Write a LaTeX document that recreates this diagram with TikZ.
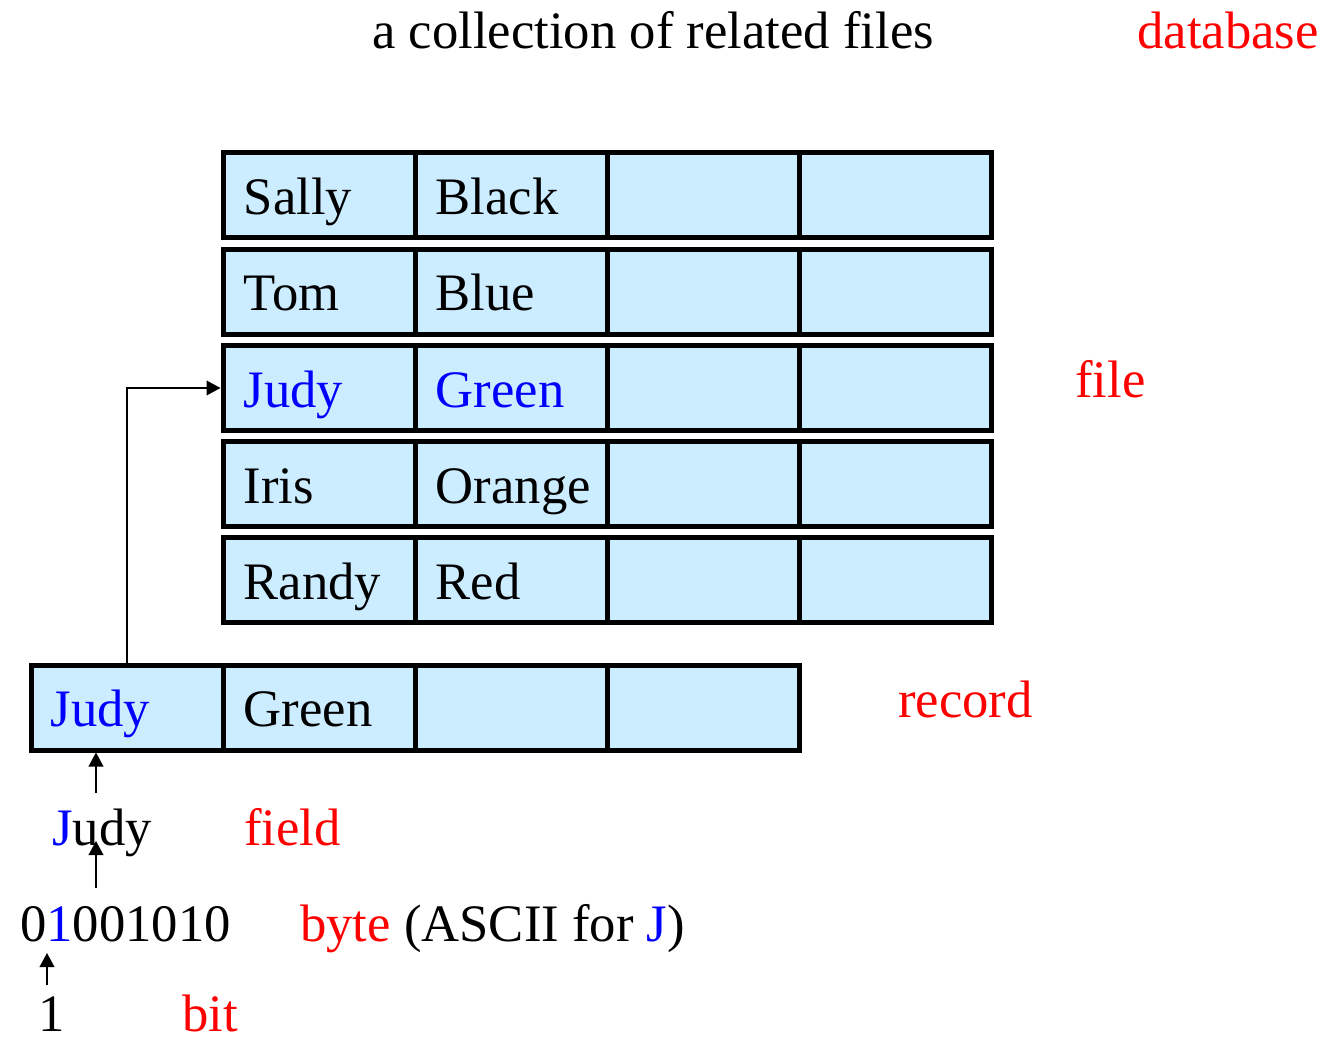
\documentclass[tikz,border=0pt]{standalone}
\usepackage{fontspec}
\setmainfont{Liberation Serif}
\usetikzlibrary{positioning, arrows.meta, calc}
\definecolor{cellBlue}{HTML}{CCECFF}
\definecolor{tagRed}{HTML}{FF0000}
\definecolor{keyBlue}{HTML}{0000FF}

\begin{document}
\begin{tikzpicture}[x=0.75pt, y=-0.75pt, font=\fontsize{39.5}{47}\selectfont,
    cell/.style={draw=black, fill=cellBlue, line width=3.75pt, minimum width=144pt,
      minimum height=63.75pt, inner sep=0pt, anchor=north west},
    celltext/.style={anchor=base west, inner sep=0pt},
    tag/.style={celltext, text=tagRed},
    link/.style={line width=1.3pt, -{Triangle[length=10.5pt, width=11pt]}}]
  \useasboundingbox (0,0) rectangle (1330,1039);
  % el archivo: cinco registros de cuatro campos
  \foreach \r/\yt/\nm/\sn/\clr in {%
    1/150/Sally/Black/black,
    2/246.5/Tom/Blue/black,
    3/343/Judy/Green/keyBlue,
    4/439/Iris/Orange/black,
    5/535/Randy/Red/black%
  } {
    \foreach \c in {1,...,4}
      \node[cell] (f-\r-\c) at ({220.5+192*(\c-1)},\yt) {};
    \node[celltext, text=\clr] (ft-\r-1) at ($(f-\r-1.north west)+(23,64)$) {\nm};
    \node[celltext, text=\clr] (ft-\r-2) at ($(f-\r-2.north west)+(23,64)$) {\sn};
  }
  % el registro suelto
  \foreach \c in {1,...,4}
    \node[cell] (rec-\c) at ({28.5+192*(\c-1)},662.5) {};
  \node[celltext, text=keyBlue] (rt-1) at ($(rec-1.north west)+(22,64)$) {Judy};
  \node[celltext] (rt-2) at ($(rec-2.north west)+(23,64)$) {Green};
  % textos
  \node[celltext] (title) at (372,48) {a collection of related files};
  \node[tag] (dbtag) at (1137,48) {database};
  \node[tag] (filetag) at (1075,397) {file};
  \node[tag] (rectag) at (898,717) {record};
  \node[celltext] (fieldword) at (52,845) {\textcolor{keyBlue}{J}udy};
  \node[tag] (fieldtag) at (244,845) {field};
  \node[celltext] (bytecode) at (20,941) {0\textcolor{keyBlue}{1}001010};
  \node[celltext] (bytetag) at (300,941) {\textcolor{tagRed}{byte} (ASCII for \textcolor{keyBlue}{J})};
  \node[celltext] (bitval) at (38,1031) {1};
  \node[tag] (bittag) at (182,1031) {bit};
  % flechas
  \draw[link] (rec-1.north) |- (f-3-1.west);
  \coordinate (fieldtail) at (96,793);
  \draw[link] (fieldtail) -- (fieldtail |- rec-1.south);
  \coordinate (bytetail) at (96,888);
  \draw[link] (bytetail) -- ($(bytetail |- fieldword.base)+(0,-4)$);
  \coordinate (bittail) at (47,985);
  \draw[link] (bittail) -- ($(bittail |- bytecode.base)+(0,12)$);
\end{tikzpicture}
\end{document}
